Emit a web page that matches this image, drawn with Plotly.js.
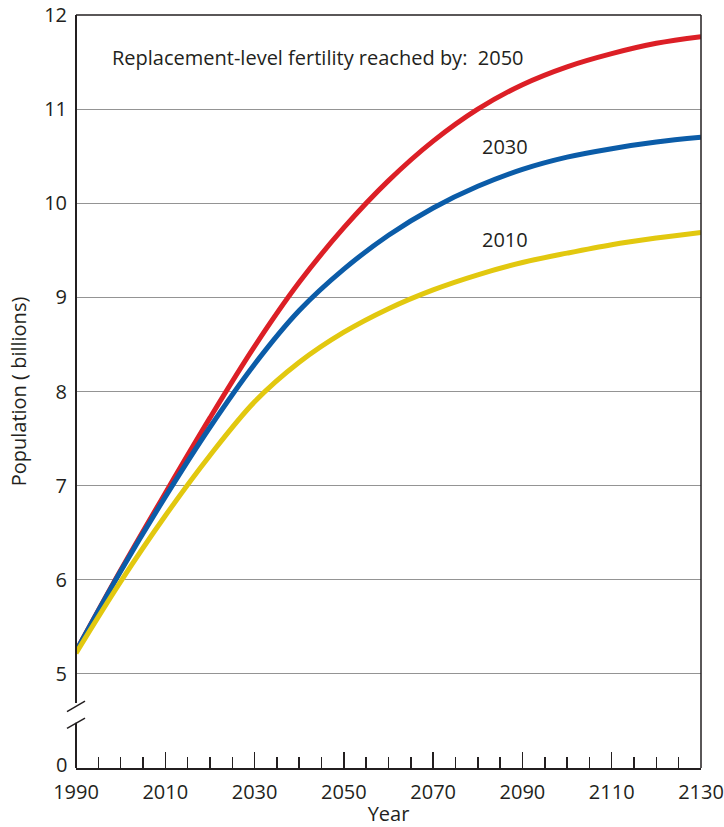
<!DOCTYPE html>
<html>
<head>
<meta charset="utf-8">
<script src="https://cdn.plot.ly/plotly-3.0.1.min.js"></script>
<style>
html,body{margin:0;padding:0;background:#fff;}
#chart{width:724px;height:827px;}
</style>
</head>
<body>
<div id="chart"></div>
<script>
// Data
const years = [1990, 2000, 2010, 2020, 2030, 2040, 2050, 2060, 2070, 2080, 2090, 2100, 2110, 2120, 2130];
const pop2050 = [5.24, 6.10, 6.92, 7.72, 8.48, 9.16, 9.74, 10.24, 10.66, 11.00, 11.26, 11.45, 11.59, 11.70, 11.77];
const pop2030 = [5.24, 6.09, 6.88, 7.62, 8.29, 8.86, 9.30, 9.66, 9.95, 10.18, 10.36, 10.49, 10.58, 10.65, 10.70];
const pop2010 = [5.22, 5.98, 6.68, 7.32, 7.89, 8.31, 8.63, 8.88, 9.08, 9.24, 9.37, 9.47, 9.56, 9.63, 9.69];

// Y axis: broken axis, "0" shown one unit below 5 (axis value 4)
const yTickVals = [5, 6, 7, 8, 9, 10, 11, 12];
const yTickText = ['5', '6', '7', '8', '9', '10', '11', '12'];
const yZeroPos = 4;
const yZeroText = '0';

const seriesNames = ['2050', '2030', '2010'];
const seriesColors = ['#dc1f26', '#0b5ca8', '#e2c80f'];

const FONT = '"Open Sans", "DejaVu Sans", sans-serif';
const INK = '#231f20';

const traces = [pop2050, pop2030, pop2010].map((vals, i) => ({
  x: years,
  y: vals,
  type: 'scatter',
  mode: 'lines',
  name: seriesNames[i],
  line: {color: seriesColors[i], width: 5, shape: 'spline', smoothing: 1},
  hoverinfo: 'skip'
}));

const layout = {
  width: 724,
  height: 827,
  margin: {l: 76, r: 23, t: 15, b: 59},
  paper_bgcolor: '#ffffff',
  plot_bgcolor: '#ffffff',
  showlegend: false,
  font: {family: FONT, size: 20, color: INK},
  xaxis: {
    range: [1990, 2130],
    tick0: 1990,
    dtick: 20,
    ticks: 'inside',
    ticklen: 16,
    tickwidth: 1.5,
    tickcolor: INK,
    ticklabelstandoff: 5,
    minor: {dtick: 5, tick0: 1990, ticks: 'inside', ticklen: 11, tickwidth: 1.5, tickcolor: INK},
    showgrid: false,
    zeroline: false,
    showline: true,
    linecolor: INK,
    linewidth: 2,
    tickfont: {family: FONT, size: 20, color: INK},
    title: {text: 'Year', font: {family: FONT, size: 20, color: INK}, standoff: 6}
  },
  yaxis: {
    range: [4, 12],
    tickvals: yTickVals,
    ticktext: yTickText,
    ticks: 'outside',
    ticklen: 4,
    tickcolor: 'rgba(0,0,0,0)',
    showgrid: true,
    gridcolor: '#949494',
    gridwidth: 1,
    zeroline: false,
    showline: false,
    tickfont: {family: FONT, size: 20, color: INK},
    title: {text: 'Population ( billions)', font: {family: FONT, size: 20, color: INK}, standoff: 12}
  },
  shapes: [
    // left axis, lower segment
    {type: 'line', xref: 'paper', yref: 'y', x0: 0, x1: 0, y0: 4, y1: 4.48, line: {color: INK, width: 2}},
    // left axis, upper segment
    {type: 'line', xref: 'paper', yref: 'y', x0: 0, x1: 0, y0: 4.69, y1: 12, line: {color: INK, width: 2}},
    // break marks
    {type: 'line', xref: 'paper', yref: 'y', xsizemode: 'pixel', xanchor: 0, x0: -9, x1: 9, y0: 4.60, y1: 4.71, line: {color: INK, width: 1.5}},
    {type: 'line', xref: 'paper', yref: 'y', xsizemode: 'pixel', xanchor: 0, x0: -9, x1: 9, y0: 4.42, y1: 4.53, line: {color: INK, width: 1.5}},
    // top frame
    {type: 'line', xref: 'paper', yref: 'paper', x0: 0, x1: 1, y0: 1, y1: 1, line: {color: INK, width: 1.5}},
    // right frame
    {type: 'line', xref: 'paper', yref: 'paper', x0: 1, x1: 1, y0: 0, y1: 1, line: {color: INK, width: 1.5}}
  ],
  annotations: [
    {x: 0, y: yZeroPos, xref: 'paper', yref: 'y', xanchor: 'right', yanchor: 'middle', xshift: -8, yshift: 4,
     showarrow: false, borderpad: 0, text: yZeroText, font: {family: FONT, size: 20, color: INK}},
    {x: 1997.6, y: 11.55, xref: 'x', yref: 'y', xanchor: 'left', yanchor: 'middle', showarrow: false,
     text: 'Replacement-level fertility reached by:\u00a0 2050', font: {family: FONT, size: 20, color: INK}},
    {x: 2080.5, y: 10.6, xref: 'x', yref: 'y', xanchor: 'left', yanchor: 'middle', showarrow: false,
     text: '2030', font: {family: FONT, size: 20, color: INK}},
    {x: 2080.5, y: 9.62, xref: 'x', yref: 'y', xanchor: 'left', yanchor: 'middle', showarrow: false,
     text: '2010', font: {family: FONT, size: 20, color: INK}}
  ]
};

Plotly.newPlot('chart', traces, layout, {staticPlot: true, displayModeBar: false});
</script>
</body>
</html>
